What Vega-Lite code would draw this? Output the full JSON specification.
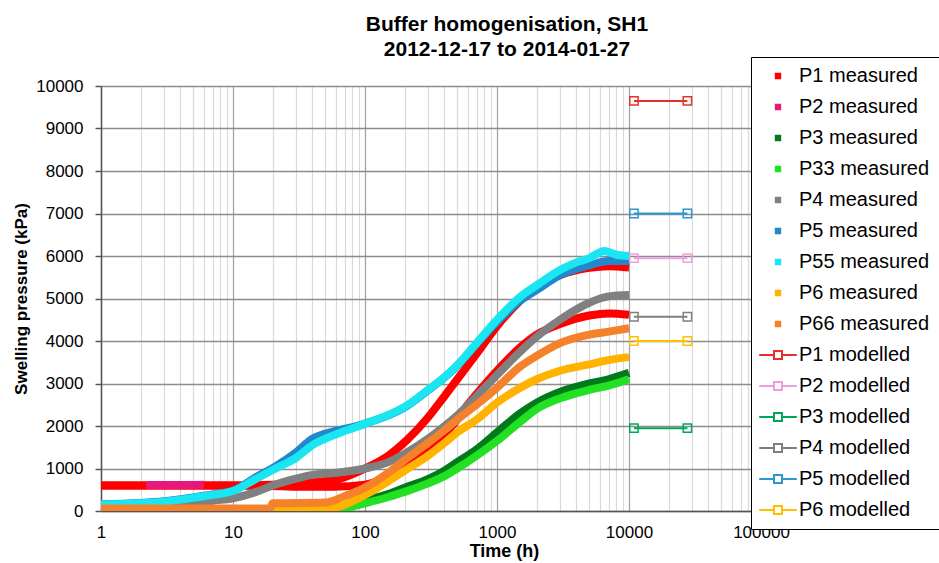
{
"$schema": "https://vega.github.io/schema/vega-lite/v6.json",
"width": 660, "height": 425,
"autosize": {"type": "none"},
"padding": {"left": 101, "top": 86, "right": 178, "bottom": 52},
"background": "white",
"config": {"view": {"stroke": null}, "font": "Liberation Sans"},
"title": {"text": ["Buffer homogenisation, SH1", "2012-12-17 to 2014-01-27"], "fontSize": 21, "fontWeight": "bold", "font": "Liberation Sans", "color": "black", "anchor": "middle", "dx": 76, "offset": -3, "lineHeight": 25},
"datasets": {
"measured": [
{"series":"P1 measured","curve":"P1a","t":1,"p":600},{"series":"P1 measured","curve":"P1a","t":10,"p":600},{"series":"P1 measured","curve":"P1a","t":20,"p":620},{"series":"P1 measured","curve":"P1a","t":30,"p":650},{"series":"P1 measured","curve":"P1a","t":59,"p":730},{"series":"P1 measured","curve":"P1a","t":100,"p":1000},{"series":"P1 measured","curve":"P1a","t":150,"p":1300},{"series":"P1 measured","curve":"P1a","t":208,"p":1670},{"series":"P1 measured","curve":"P1a","t":300,"p":2200},{"series":"P1 measured","curve":"P1a","t":400,"p":2700},{"series":"P1 measured","curve":"P1a","t":500,"p":3100},{"series":"P1 measured","curve":"P1a","t":700,"p":3700},{"series":"P1 measured","curve":"P1a","t":1000,"p":4350},{"series":"P1 measured","curve":"P1a","t":1500,"p":4950},{"series":"P1 measured","curve":"P1a","t":2000,"p":5300},{"series":"P1 measured","curve":"P1a","t":3000,"p":5550},{"series":"P1 measured","curve":"P1a","t":5000,"p":5720},{"series":"P1 measured","curve":"P1a","t":7000,"p":5760},{"series":"P1 measured","curve":"P1a","t":10000,"p":5730},
{"series":"P1 measured","curve":"P1b","t":1,"p":600},{"series":"P1 measured","curve":"P1b","t":10,"p":600},{"series":"P1 measured","curve":"P1b","t":20,"p":590},{"series":"P1 measured","curve":"P1b","t":30,"p":570},{"series":"P1 measured","curve":"P1b","t":59,"p":570},{"series":"P1 measured","curve":"P1b","t":100,"p":620},{"series":"P1 measured","curve":"P1b","t":150,"p":800},{"series":"P1 measured","curve":"P1b","t":200,"p":1000},{"series":"P1 measured","curve":"P1b","t":300,"p":1400},{"series":"P1 measured","curve":"P1b","t":400,"p":1800},{"series":"P1 measured","curve":"P1b","t":500,"p":2150},{"series":"P1 measured","curve":"P1b","t":600,"p":2500},{"series":"P1 measured","curve":"P1b","t":700,"p":2750},{"series":"P1 measured","curve":"P1b","t":1000,"p":3300},{"series":"P1 measured","curve":"P1b","t":1500,"p":3850},{"series":"P1 measured","curve":"P1b","t":2000,"p":4150},{"series":"P1 measured","curve":"P1b","t":3000,"p":4400},{"series":"P1 measured","curve":"P1b","t":5000,"p":4600},{"series":"P1 measured","curve":"P1b","t":7000,"p":4650},{"series":"P1 measured","curve":"P1b","t":10000,"p":4620},
{"series":"P2 measured","curve":"P2","t":2.2,"p":610},{"series":"P2 measured","curve":"P2","t":3,"p":610},{"series":"P2 measured","curve":"P2","t":4.5,"p":610},{"series":"P2 measured","curve":"P2","t":6,"p":615},
{"series":"P3 measured","curve":"P3","t":20,"p":20},{"series":"P3 measured","curve":"P3","t":50,"p":30},{"series":"P3 measured","curve":"P3","t":70,"p":100},{"series":"P3 measured","curve":"P3","t":100,"p":250},{"series":"P3 measured","curve":"P3","t":150,"p":400},{"series":"P3 measured","curve":"P3","t":200,"p":550},{"series":"P3 measured","curve":"P3","t":300,"p":750},{"series":"P3 measured","curve":"P3","t":400,"p":950},{"series":"P3 measured","curve":"P3","t":500,"p":1150},{"series":"P3 measured","curve":"P3","t":700,"p":1450},{"series":"P3 measured","curve":"P3","t":1000,"p":1850},{"series":"P3 measured","curve":"P3","t":1500,"p":2300},{"series":"P3 measured","curve":"P3","t":2000,"p":2550},{"series":"P3 measured","curve":"P3","t":3000,"p":2800},{"series":"P3 measured","curve":"P3","t":5000,"p":3000},{"series":"P3 measured","curve":"P3","t":7000,"p":3100},{"series":"P3 measured","curve":"P3","t":10000,"p":3250},
{"series":"P33 measured","curve":"P33","t":3,"p":0},{"series":"P33 measured","curve":"P33","t":20,"p":0},{"series":"P33 measured","curve":"P33","t":50,"p":0},{"series":"P33 measured","curve":"P33","t":70,"p":60},{"series":"P33 measured","curve":"P33","t":100,"p":180},{"series":"P33 measured","curve":"P33","t":150,"p":330},{"series":"P33 measured","curve":"P33","t":200,"p":450},{"series":"P33 measured","curve":"P33","t":300,"p":650},{"series":"P33 measured","curve":"P33","t":400,"p":820},{"series":"P33 measured","curve":"P33","t":500,"p":1000},{"series":"P33 measured","curve":"P33","t":700,"p":1300},{"series":"P33 measured","curve":"P33","t":1000,"p":1650},{"series":"P33 measured","curve":"P33","t":1500,"p":2100},{"series":"P33 measured","curve":"P33","t":2000,"p":2400},{"series":"P33 measured","curve":"P33","t":3000,"p":2650},{"series":"P33 measured","curve":"P33","t":5000,"p":2850},{"series":"P33 measured","curve":"P33","t":7000,"p":2950},{"series":"P33 measured","curve":"P33","t":10000,"p":3100},
{"series":"P4 measured","curve":"P4","t":1,"p":50},{"series":"P4 measured","curve":"P4","t":2,"p":70},{"series":"P4 measured","curve":"P4","t":3,"p":100},{"series":"P4 measured","curve":"P4","t":5,"p":170},{"series":"P4 measured","curve":"P4","t":7,"p":240},{"series":"P4 measured","curve":"P4","t":10,"p":300},{"series":"P4 measured","curve":"P4","t":15,"p":450},{"series":"P4 measured","curve":"P4","t":20,"p":600},{"series":"P4 measured","curve":"P4","t":30,"p":760},{"series":"P4 measured","curve":"P4","t":40,"p":850},{"series":"P4 measured","curve":"P4","t":60,"p":900},{"series":"P4 measured","curve":"P4","t":100,"p":1000},{"series":"P4 measured","curve":"P4","t":150,"p":1150},{"series":"P4 measured","curve":"P4","t":200,"p":1350},{"series":"P4 measured","curve":"P4","t":300,"p":1700},{"series":"P4 measured","curve":"P4","t":400,"p":2000},{"series":"P4 measured","curve":"P4","t":500,"p":2250},{"series":"P4 measured","curve":"P4","t":700,"p":2700},{"series":"P4 measured","curve":"P4","t":1000,"p":3200},{"series":"P4 measured","curve":"P4","t":1500,"p":3750},{"series":"P4 measured","curve":"P4","t":2000,"p":4100},{"series":"P4 measured","curve":"P4","t":3000,"p":4500},{"series":"P4 measured","curve":"P4","t":5000,"p":4900},{"series":"P4 measured","curve":"P4","t":7000,"p":5050},{"series":"P4 measured","curve":"P4","t":10000,"p":5080},
{"series":"P5 measured","curve":"P5","t":1,"p":160},{"series":"P5 measured","curve":"P5","t":2,"p":190},{"series":"P5 measured","curve":"P5","t":3,"p":230},{"series":"P5 measured","curve":"P5","t":5,"p":320},{"series":"P5 measured","curve":"P5","t":7,"p":390},{"series":"P5 measured","curve":"P5","t":10,"p":480},{"series":"P5 measured","curve":"P5","t":15,"p":800},{"series":"P5 measured","curve":"P5","t":21,"p":1050},{"series":"P5 measured","curve":"P5","t":30,"p":1380},{"series":"P5 measured","curve":"P5","t":40,"p":1700},{"series":"P5 measured","curve":"P5","t":50,"p":1820},{"series":"P5 measured","curve":"P5","t":70,"p":1930},{"series":"P5 measured","curve":"P5","t":100,"p":2060},{"series":"P5 measured","curve":"P5","t":150,"p":2250},{"series":"P5 measured","curve":"P5","t":200,"p":2440},{"series":"P5 measured","curve":"P5","t":300,"p":2840},{"series":"P5 measured","curve":"P5","t":400,"p":3140},{"series":"P5 measured","curve":"P5","t":500,"p":3420},{"series":"P5 measured","curve":"P5","t":700,"p":3930},{"series":"P5 measured","curve":"P5","t":1000,"p":4450},{"series":"P5 measured","curve":"P5","t":1500,"p":4950},{"series":"P5 measured","curve":"P5","t":2000,"p":5200},{"series":"P5 measured","curve":"P5","t":3000,"p":5550},{"series":"P5 measured","curve":"P5","t":5000,"p":5780},{"series":"P5 measured","curve":"P5","t":7000,"p":5880},{"series":"P5 measured","curve":"P5","t":10000,"p":5880},
{"series":"P55 measured","curve":"P55","t":1,"p":150},{"series":"P55 measured","curve":"P55","t":2,"p":180},{"series":"P55 measured","curve":"P55","t":3,"p":220},{"series":"P55 measured","curve":"P55","t":5,"p":310},{"series":"P55 measured","curve":"P55","t":7,"p":380},{"series":"P55 measured","curve":"P55","t":10,"p":470},{"series":"P55 measured","curve":"P55","t":15,"p":760},{"series":"P55 measured","curve":"P55","t":21,"p":1000},{"series":"P55 measured","curve":"P55","t":30,"p":1250},{"series":"P55 measured","curve":"P55","t":40,"p":1550},{"series":"P55 measured","curve":"P55","t":50,"p":1700},{"series":"P55 measured","curve":"P55","t":70,"p":1880},{"series":"P55 measured","curve":"P55","t":100,"p":2050},{"series":"P55 measured","curve":"P55","t":150,"p":2260},{"series":"P55 measured","curve":"P55","t":200,"p":2450},{"series":"P55 measured","curve":"P55","t":300,"p":2850},{"series":"P55 measured","curve":"P55","t":400,"p":3150},{"series":"P55 measured","curve":"P55","t":500,"p":3430},{"series":"P55 measured","curve":"P55","t":700,"p":3950},{"series":"P55 measured","curve":"P55","t":1000,"p":4500},{"series":"P55 measured","curve":"P55","t":1500,"p":5040},{"series":"P55 measured","curve":"P55","t":2000,"p":5310},{"series":"P55 measured","curve":"P55","t":3000,"p":5670},{"series":"P55 measured","curve":"P55","t":4000,"p":5850},{"series":"P55 measured","curve":"P55","t":5000,"p":5950},{"series":"P55 measured","curve":"P55","t":6500,"p":6120},{"series":"P55 measured","curve":"P55","t":8000,"p":6030},{"series":"P55 measured","curve":"P55","t":10000,"p":6000},
{"series":"P6 measured","curve":"P6","t":1,"p":30},{"series":"P6 measured","curve":"P6","t":20,"p":30},{"series":"P6 measured","curve":"P6","t":50,"p":40},{"series":"P6 measured","curve":"P6","t":70,"p":150},{"series":"P6 measured","curve":"P6","t":100,"p":380},{"series":"P6 measured","curve":"P6","t":150,"p":700},{"series":"P6 measured","curve":"P6","t":200,"p":950},{"series":"P6 measured","curve":"P6","t":300,"p":1300},{"series":"P6 measured","curve":"P6","t":400,"p":1600},{"series":"P6 measured","curve":"P6","t":500,"p":1850},{"series":"P6 measured","curve":"P6","t":700,"p":2150},{"series":"P6 measured","curve":"P6","t":1000,"p":2550},{"series":"P6 measured","curve":"P6","t":1500,"p":2900},{"series":"P6 measured","curve":"P6","t":2000,"p":3100},{"series":"P6 measured","curve":"P6","t":3000,"p":3300},{"series":"P6 measured","curve":"P6","t":5000,"p":3450},{"series":"P6 measured","curve":"P6","t":7000,"p":3550},{"series":"P6 measured","curve":"P6","t":10000,"p":3620},
{"series":"P66 measured","curve":"P66","t":1,"p":60},{"series":"P66 measured","curve":"P66","t":19,"p":60},{"series":"P66 measured","curve":"P66","t":20,"p":180},{"series":"P66 measured","curve":"P66","t":50,"p":200},{"series":"P66 measured","curve":"P66","t":70,"p":350},{"series":"P66 measured","curve":"P66","t":100,"p":550},{"series":"P66 measured","curve":"P66","t":150,"p":900},{"series":"P66 measured","curve":"P66","t":200,"p":1200},{"series":"P66 measured","curve":"P66","t":300,"p":1600},{"series":"P66 measured","curve":"P66","t":400,"p":1900},{"series":"P66 measured","curve":"P66","t":500,"p":2150},{"series":"P66 measured","curve":"P66","t":700,"p":2500},{"series":"P66 measured","curve":"P66","t":1000,"p":2900},{"series":"P66 measured","curve":"P66","t":1500,"p":3400},{"series":"P66 measured","curve":"P66","t":2000,"p":3650},{"series":"P66 measured","curve":"P66","t":3000,"p":3950},{"series":"P66 measured","curve":"P66","t":5000,"p":4150},{"series":"P66 measured","curve":"P66","t":7000,"p":4220},{"series":"P66 measured","curve":"P66","t":10000,"p":4300}
],
"modelled": [
{"series":"P1 modelled","curve":"M1","t":10900,"p":9650},{"series":"P1 modelled","curve":"M1","t":27700,"p":9650},
{"series":"P2 modelled","curve":"M2","t":10900,"p":5950},{"series":"P2 modelled","curve":"M2","t":27700,"p":5950},
{"series":"P3 modelled","curve":"M3","t":10900,"p":1950},{"series":"P3 modelled","curve":"M3","t":27700,"p":1950},
{"series":"P4 modelled","curve":"M4","t":10900,"p":4570},{"series":"P4 modelled","curve":"M4","t":27700,"p":4570},
{"series":"P5 modelled","curve":"M5","t":10900,"p":7000},{"series":"P5 modelled","curve":"M5","t":27700,"p":7000},
{"series":"P6 modelled","curve":"M6","t":10900,"p":4000},{"series":"P6 modelled","curve":"M6","t":27700,"p":4000}
]
},
"encoding": {
"x": {"field": "t", "type": "quantitative", "scale": {"type": "log", "domain": [1, 100000]},
  "axis": {"title": "Time (h)", "titleFontSize": 18, "titleFontWeight": "bold", "titleColor": "black", "titlePadding": 2, "titleX": 403,
   "values": [1,2,3,4,5,6,7,8,9,10,20,30,40,50,60,70,80,90,100,200,300,400,500,600,700,800,900,1000,2000,3000,4000,5000,6000,7000,8000,9000,10000,20000,30000,40000,50000,60000,70000,80000,90000,100000],
   "labelExpr": "indexof([1,10,100,1000,10000,100000], datum.value) >= 0 ? format(datum.value, 'd') : ''",
   "labelFontSize": 17, "labelColor": "black", "labelPadding": 13, "ticks": false, "labelFlush": false, "labelOverlap": false,
   "domainColor": "#555555", "domainWidth": 1.5,
   "grid": true, "gridColor": {"condition": {"test": "indexof([1,10,100,1000,10000,100000], datum.value) >= 0", "value": "#a0a0a0"}, "value": "#d9d9d9"}, "gridWidth": 1.2}},
"y": {"field": "p", "type": "quantitative", "scale": {"domain": [0, 10000], "nice": false},
  "axis": {"title": "Swelling pressure (kPa)", "titleFontSize": 17, "titleFontWeight": "bold", "titleColor": "black", "titlePadding": 5,
   "values": [0,1000,2000,3000,4000,5000,6000,7000,8000,9000,10000], "format": "d",
   "labelFontSize": 17, "labelColor": "black", "labelPadding": 12, "tickSize": 6, "tickColor": "#555555", "tickWidth": 1.5,
   "domainColor": "#555555", "domainWidth": 1.5, "grid": true, "gridColor": "#8c8c8c", "gridWidth": 1.6}},
"color": {"field": "series", "type": "nominal",
  "scale": {"domain": ["P1 measured","P2 measured","P3 measured","P33 measured","P4 measured","P5 measured","P55 measured","P6 measured","P66 measured","P1 modelled","P2 modelled","P3 modelled","P4 modelled","P5 modelled","P6 modelled"],
   "range": ["#ff0000","#e6197a","#007a1a","#22e022","#808080","#2188cc","#1ae6f2","#ffb300","#f5822a","#e8302a","#f09ce0","#00a65a","#7f7f7f","#2e95d3","#ffc000"]},
  "legend": {"title": null, "orient": "none", "legendX": 650, "legendY": -29, "labelFont": "Liberation Sans", "labelFontSize": 20, "labelColor": "black", "labelLimit": 400,
   "symbolSize": 64, "rowPadding": 11, "labelOffset": 19, "padding": 9, "strokeColor": "black", "fillColor": "white",
   "encode": {"symbols": {"update": {
     "shape": {"signal": "indexof(datum.value, 'modelled') >= 0 ? 'M-2.7,0H1M3,0H6.7M1,-1H3V1H1Z' : 'M1.45,-0.55H2.55V0.55H1.45Z'"},
     "fill": {"signal": "indexof(datum.value, 'modelled') >= 0 ? 'transparent' : scale('color', datum.value)"},
     "stroke": {"signal": "indexof(datum.value, 'modelled') >= 0 ? scale('color', datum.value) : 'transparent'"},
     "strokeWidth": {"value": 2}, "size": {"value": 64}, "opacity": {"value": 1}, "fillOpacity": {"value": 1}, "strokeOpacity": {"value": 1}}}}}}
},
"layer": [
{"data": {"name": "measured"}, "mark": {"type": "line", "strokeWidth": 8, "interpolate": "monotone", "strokeJoin": "round", "clip": true},
 "encoding": {"detail": {"field": "curve"}}},
{"data": {"name": "modelled"}, "mark": {"type": "line", "strokeWidth": 2, "point": {"shape": "square", "filled": false, "size": 70, "strokeWidth": 1.5}},
 "encoding": {"detail": {"field": "curve"}}}
]
}
